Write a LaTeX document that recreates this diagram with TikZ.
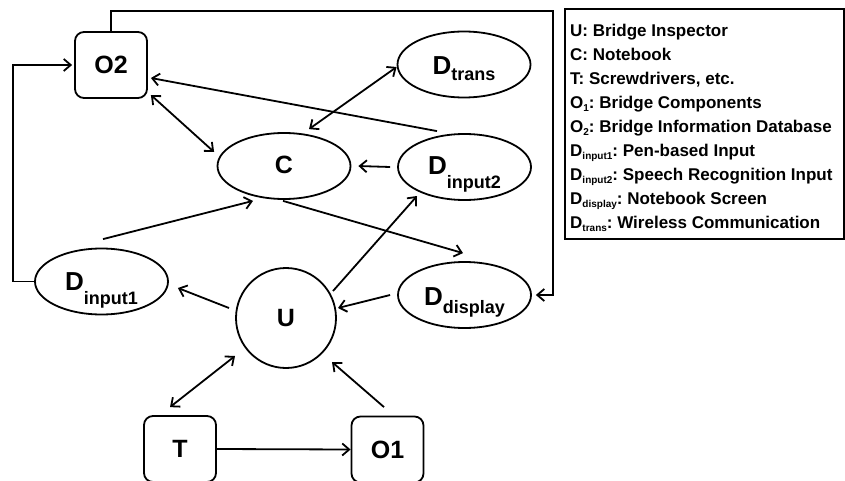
\documentclass[tikz,border=0pt]{standalone}
\usepackage{fontspec}
\setmainfont{Liberation Sans}
\usetikzlibrary{shapes.geometric,arrows.meta,calc}
\newcommand\nsub[2]{\raisebox{-#1pt}{\fontsize{18}{18}\selectfont #2}}
\newcommand\lsub[1]{\raisebox{-3pt}{\fontsize{10}{10}\selectfont #1}}
\frenchspacing
\begin{document}
\begin{tikzpicture}[x=1pt,y=-1pt,
  lw/.style={line width=1.8pt},
  box/.style={lw, draw, rounded corners=9pt, minimum width=72pt, minimum height=66pt, inner sep=0pt, font=\fontsize{25}{25}\selectfont\bfseries},
  ell/.style={lw, draw, ellipse, minimum width=133pt, minimum height=66pt, inner sep=0pt, text depth=0pt, font=\fontsize{26}{26}\selectfont\bfseries},
  circ/.style={lw, draw, circle, minimum size=100pt, inner sep=0pt, font=\fontsize{25}{25}\selectfont\bfseries},
  arr/.style={lw, -{Straight Barb[length=7pt,width=12pt]}},
  darr/.style={lw, {Straight Barb[length=7pt,width=12pt]}-{Straight Barb[length=7pt,width=12pt]}},
  legtext/.style={anchor=base west, inner sep=0pt, font=\fontsize{17}{17}\selectfont\bfseries\frenchspacing}]
\useasboundingbox (0,0) rectangle (845,481);
\fill[white] (0,0) rectangle (845,481);

% nodes
\node[box] (O2) at (111,65) {O2};
\node[box] (T) at (180,449) {T};
\node[box] (O1) at (387.5,449.5) {O1};
\node[ell, text height=16pt, font=\fontsize{25}{25}\selectfont\bfseries] (C) at (284,166) {C};
\node[ell, text height=21pt] (Dtrans) at (464,64.5) {D\nsub{6}{trans}};
\node[ell, text height=16pt] (Din2) at (464.5,167) {D\nsub{14}{input2}};
\node[ell, text height=20pt] (Ddisp) at (464.5,295) {D\nsub{8}{display}};
\node[ell, text height=17pt] (Din1) at (101.5,281.5) {D\nsub{14}{input1}};
\node[circ] (U) at (286,318) {U};

\coordinate (tr) at (553,11);
\coordinate (lt) at (13,65);

% connectors
\draw[arr] ($(Din2.west)+(-7,0)$) -- ($(C.east)+(7,0)$);
\draw[arr] ($(Din1.north)+(1.5,-8.5)$) -- ($(C.south)+(-31,1)$);
\draw[arr] ($(C.south)+(-1,1)$) -- ($(Ddisp.north)+(-1.5,-8)$);
\draw[arr] ($(U.center)+(47,-27)$) -- ($(Din2.center)+(-47.5,29)$);
\draw[arr] ($(Ddisp.west)+(-7,0)$) -- ($(U.center)+(52,-10)$);
\draw[arr] ($(U.center)+(-57,-10)$) -- ($(Din1.east)+(9,6.5)$);
\draw[darr] ($(U.center)+(-51,38)$) -- ($(T.north)+(-10,-8)$);
\draw[arr] ($(O1.north)+(-3.5,-8.5)$) -- ($(U.center)+(46,44)$);
\draw[arr] (T.east) -- (O1.west);
\draw[darr] ($(O2.east)+(3,30)$) -- ($(C.west)+(-2.5,-14)$);
\draw[darr] ($(Dtrans.west)+(0,2.5)$) -- ($(C.north)+(25,-3)$);
\draw[arr] ($(Din2.north)+(-27.5,-2)$) -- ($(O2.east)+(3,13)$);
\draw[arr, shorten >=4pt] (O2.north) |- (tr) |- (Ddisp.east);
\draw[arr, shorten >=2pt] (Din1.west) -| (lt) |- (O2.west);

% legend
\draw[line width=2pt] (565,9) rectangle (844,239);
\node[legtext] (l1) at (570,37) {U: Bridge Inspector};
\node[legtext] (l2) at (570,60.9) {C: Notebook};
\node[legtext] (l3) at (570,84.8) {T: Screwdrivers, etc.};
\node[legtext] (l4) at (570,108.6) {O\lsub{1}: Bridge Components};
\node[legtext] (l5) at (570,132.5) {O\lsub{2}: Bridge Information Database};
\node[legtext] (l6) at (570,156.4) {D\lsub{input1}: Pen-based Input};
\node[legtext] (l7) at (570,180.3) {D\lsub{input2}: Speech Recognition Input};
\node[legtext] (l8) at (570,204.1) {D\lsub{display}: Notebook Screen};
\node[legtext] (l9) at (570,228) {D\lsub{trans}: Wireless Communication};
\end{tikzpicture}
\end{document}
